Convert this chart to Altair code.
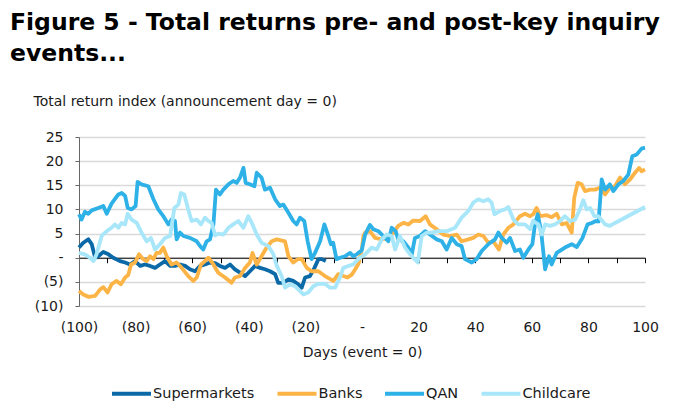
import altair as alt
import pandas as pd

SERIES = ["Supermarkets", "Banks", "QAN", "Childcare"]
COLORS = ["#0B69A8", "#FDB446", "#2DB1E6", "#A8E6FA"]

super_days = [-100, -98.5, -96.7, -95.5, -94.3, -93.2, -91.4, -89.6, -87.9, -85.5, -83.7, -82, -80.2, -78.4,
              -76.7, -74.9, -73.1, -71.4, -69.6, -67.8, -66.1, -64.3, -62.5, -60.8, -59, -57.2, -55.5, -53.7,
              -51.9, -50.2, -48.4, -46.6, -44.9, -43.1, -41.3, -39.6, -37.8, -36, -34.3, -32.5, -30.7, -29.6,
              -27.8, -26, -24.3, -22.5, -21.3, -20.1, -18.4, -16.8, -15.4, -14.2, -12.8]
super_vals = [2.1, 3.1, 3.8, 2.8, 0, 0.3, 1.2, 0.7, 0, -0.7, -1.0, -1.4, -0.7, -1.7,
              -1.4, -1.7, -2.1, -1.4, -0.7, -1.7, -1.7, -1.4, -1.7, -2.4, -2.8, -1.7, -1.4, -1.0,
              -1.1, -1.7, -2.1, -1.4, -2.4, -3.1, -3.8, -2.8, -1.7, -2.1, -2.4, -2.8, -3.4, -5.2,
              -5.2, -4.5, -4.8, -5.5, -6.2, -4.1, -3.8, -2.1, -0.3, -0.3, -0.7]

banks_days = [-100, -98.5, -96.7, -94.3, -92.6, -91.4, -89.9, -88.5, -86.7, -85.2, -83.7, -82.6, -81.6, -80.2,
              -78.8, -77.3, -76.1, -74.9, -73.7, -72.6, -71.4, -70.2, -69.0, -67.3, -65.5, -63.7, -61.4, -59.6,
              -58.4, -56.9, -55.5, -54.3, -52.5, -50.8, -48.4, -46.1, -44.9, -43.1, -41.3, -39.6, -38.7, -37.2,
              -35.5, -33.7, -31.9, -30.1, -27.2, -26.0, -24.3, -22.7, -21.3, -19.5, -17.8, -15.4, -13.1, -10.1,
              -8.4, -6.6, -5.1, -3.6, -2.5, -1.2, 0.0, 0.5, 1.1, 2.8, 4.6, 7.0, 9.3, 11.1, 12.8, 14.6,
              16.4, 18.1, 20.5, 22.5, 24.0, 26.4, 28.7, 31.1, 33.5, 35.2, 37.6, 39.3, 41.1, 42.9, 44.6, 46.4,
              47.9, 48.4, 49.9, 51.7, 53.5, 55.8, 57.6, 59.4, 60.5, 61.7, 62.9, 65.3, 67.0, 68.8, 70.6, 72.3,
              74.1, 75.0, 76.2, 77.6, 78.8, 80.6, 82.3, 84.1, 85.9, 87.6, 89.4, 91.2, 92.9, 94.7, 96.5, 97.9,
              98.8, 100]
banks_vals = [-6.9, -7.6, -8.1, -7.9, -6.6, -6.1, -7.2, -5.5, -4.8, -5.5, -4.1, -3.6, -1.4, -1.0,
              0.7, -0.3, -0.7, 0.3, -0.3, 1.0, 1.0, 2.1, 0.3, -1.4, -1.0, -2.1, -3.8, -4.8,
              -4.1, -1.4, -0.7, 0, -1.4, -3.1, -4.1, -5.2, -4.1, -3.8, -2.1, -1.0, 1.0, -1.4,
              0.3, 2.1, 3.4, 3.8, 3.4, 0.3, -1.0, -0.3, -0.3, -2.1, -2.8, -2.8, -3.8, -4.8,
              -3.4, -3.8, -4.1, -3.5, -2.5, -1.2, 2.0, 4.5, 5.2, 5.5, 4.1, 3.8, 4.1, 5.2, 6.6, 7.2,
              6.9, 7.7, 7.6, 8.6, 6.9, 5.9, 4.8, 4.5, 4.8, 3.4, 3.8, 4.1, 4.8, 4.5, 3.1, 3.4,
              2.1, 1.7, 4.8, 6.2, 6.9, 8.6, 9.1, 8.6, 9.0, 10.3, 8.6, 8.8, 8.4, 9.1, 6.9, 7.2,
              5.2, 12.4, 15.5, 15.2, 13.8, 14.1, 14.1, 14.5, 13.1, 14.5, 14.8, 16.6, 15.2, 16.2, 17.6, 18.6,
              17.9, 18.3]

qan_days = [-100, -99.1, -97.9, -96.7, -95.5, -93.2, -91.4, -90.2, -88.5, -86.1, -84.9, -83.7, -82.8, -81.4,
            -80.0, -79.3, -77.9, -75.5, -73.7, -72.0, -70.2, -68.4, -67.3, -66.1, -65.5, -64.3, -63.1, -60.8,
            -58.4, -57.2, -56.1, -54.9, -53.7, -52.5, -51.6, -50.2, -49.0, -47.2, -45.5, -44.3, -43.1, -41.9,
            -41.1, -39.6, -38.0, -37.2, -35.5, -34.3, -32.5, -30.7, -29.0, -27.8, -26.0, -24.3, -23.1, -21.9,
            -20.4, -19.2, -17.8, -16.6, -14.8, -13.3, -11.9, -11.0, -10.2, -9.0, -7.8, -6.0, -4.2, -3.1,
            -1.9, -1.3, -0.1, 1.1, 2.8, 4.0, 5.8, 7.5, 9.3, 10.5, 11.9, 12.8, 14.6, 16.4,
            17.6, 18.7, 20.5, 22.3, 24.0, 26.4, 28.2, 29.9, 31.7, 33.5, 35.2, 36.4, 38.8, 40.5,
            42.3, 44.6, 47.0, 48.2, 49.4, 51.1, 52.3, 54.1, 55.8, 57.0, 58.8, 60.2, 61.1, 62.1,
            63.3, 64.7, 66.1, 67.0, 68.8, 71.7, 74.1, 75.9, 77.9, 79.7, 81.2, 82.6, 83.6, 84.7,
            85.9, 87.6, 88.8, 90.6, 92.3, 94.1, 95.5, 97.1, 98.8, 100]
qan_vals = [9.0, 7.9, 9.5, 9.1, 9.8, 10.3, 10.7, 9.1, 11.2, 13.1, 13.4, 12.8, 10.3, 10.0,
            10.7, 15.7, 15.2, 14.8, 12.1, 10.0, 8.6, 6.9, 7.9, 7.6, 3.8, 5.2, 4.5, 4.1,
            3.4, 2.4, 1.7, 3.4, 3.8, 6.9, 14.1, 13.1, 14.1, 15.2, 15.9, 15.5, 16.6, 18.6,
            15.5, 15.2, 14.8, 17.6, 16.6, 14.1, 14.5, 12.1, 10.7, 11.0, 9.3, 7.6, 6.9, 8.3,
            7.6, 3.4, -0.3, 1.0, 3.4, 6.9, 4.5, 2.8, 3.1, -0.3, 0, 0.3, 1.0, 0.3,
            0.7, 1.0, 1.5, 4.8, 6.8, 5.9, 5.5, 4.5, 3.4, 6.2, 5.5, 3.8, 3.4, 2.1,
            0.7, 4.1, 4.5, 5.5, 4.8, 3.8, 3.4, 1.7, 4.1, 2.8, 2.4, -0.3, -1.0, -0.3,
            1.4, 2.8, 3.8, 5.2, 4.1, 3.1, 4.1, 1.4, 1.7, 0, 1.7, 2.8, 6.9, 9.0,
            5.5, -2.4, 0.3, -1.4, 1.0, 2.1, 2.8, 2.2, 4.1, 6.9, 7.2, 7.6, 7.5, 16.2,
            14.1, 15.2, 13.8, 15.2, 15.9, 17.2, 21.0, 21.4, 22.6, 22.8]

child_days = [-100, -97.9, -96.1, -94.9, -93.8, -92.0, -90.2, -88.5, -87.3, -86.1, -84.9, -83.7, -82.8, -81.4,
              -79.6, -77.9, -76.1, -74.6, -73.1, -71.4, -69.6, -67.8, -66.3, -64.9, -64.0, -62.8, -61.4, -60.2,
              -58.4, -56.9, -55.5, -54.3, -53.1, -51.9, -50.8, -49.0, -47.2, -45.5, -43.7, -41.9, -40.2, -38.7,
              -37.2, -35.5, -33.1, -31.3, -30.1, -28.4, -27.2, -25.4, -23.7, -21.9, -20.7, -19.0, -17.2, -15.4,
              -13.1, -11.3, -9.5, -7.8, -6.6, -4.8, -3.1, -2.5, -1.3, -0.7, 1.1, 3.4, 5.2, 7.0,
              8.7, 10.5, 11.7, 13.4, 15.2, 17.0, 18.1, 19.7, 21.1, 22.9, 24.6, 27.0, 29.9, 32.9,
              35.2, 37.6, 39.3, 41.1, 42.9, 44.6, 45.8, 46.8, 48.8, 50.5, 51.7, 53.5, 55.2, 57.6,
              59.4, 60.5, 62.3, 63.5, 64.7, 66.4, 68.2, 70.0, 71.7, 73.5, 75.3, 77.0, 78.2, 79.4,
              80.6, 82.1, 83.5, 84.5, 85.9, 87.6, 89.4, 100]
child_vals = [1.0, 0.7, 0, -0.7, 0.7, 4.5, 5.5, 6.2, 6.9, 6.2, 7.2, 6.9, 9.1, 7.9,
              7.2, 5.2, 3.4, 4.1, 1.7, 2.8, 4.1, 4.5, 10.3, 11.0, 13.4, 13.1, 10.0, 7.6,
              7.9, 6.9, 8.3, 7.6, 7.2, 4.6, 5.0, 4.8, 6.2, 6.9, 7.6, 6.2, 8.6, 6.9,
              4.8, 3.1, 2.4, 0.7, -1.7, -3.8, -6.2, -5.5, -5.9, -6.9, -7.6, -7.2, -5.9, -5.4,
              -5.4, -6.2, -6.2, -4.1, -2.1, -1.7, -1.4, -1.0, -0.3, 0, 0.7, 2.1, 1.7, 3.8,
              4.8, 4.5, 1.7, 4.5, 2.1, 0.7, 0, -1.0, 4.5, 5.2, 5.2, 5.5, 5.5, 6.2,
              8.3, 9.7, 11.4, 12.1, 11.7, 12.1, 11.4, 9.0, 9.7, 10.0, 10.5, 7.9, 6.9, 6.9,
              5.9, 7.6, 6.9, 4.8, 6.9, 6.6, 6.9, 7.6, 8.6, 7.6, 7.9, 10.0, 11.9, 10.0,
              10.3, 8.6, 8.6, 7.9, 6.9, 6.6, 7.2, 10.5]

rows = []
for name, ds, vs in [("Supermarkets", super_days, super_vals), ("Banks", banks_days, banks_vals),
                     ("QAN", qan_days, qan_vals), ("Childcare", child_days, child_vals)]:
    for d, v in zip(ds, vs):
        rows.append({"series": name, "day": d, "value": v})
df = pd.DataFrame(rows)

W, H = 566, 169
X_TICKS = list(range(-100, 101, 10))
Y_TICKS = [-10, -5, 0, 5, 10, 15, 20, 25]
FONT = "DejaVu Sans"

x_label = ("datum.value % 20 != 0 ? '' : (datum.value == 0 ? '-' : "
           "(datum.value < 0 ? '(' + (-datum.value) + ')' : '' + datum.value))")
y_label = ("datum.value == 0 ? '-' : (datum.value < 0 ? '(' + (-datum.value) + ')' : '' + datum.value)")

chart = alt.Chart(df).mark_line(strokeWidth=3.8, strokeJoin="round").encode(
    x=alt.X("day:Q",
            scale=alt.Scale(domain=[-100, 100], nice=False, zero=False),
            axis=alt.Axis(values=X_TICKS, labelExpr=x_label, title="Days (event = 0)",
                          grid=False, offset=-H * 10 / 35, domainColor="#000000", domainWidth=1,
                          tickColor="#000000", tickSize=5, labelPadding=69, labelBaseline="alphabetic",
                          labelFlush=False, labelOverlap=False, titleY=99, titleBaseline="alphabetic")),
    y=alt.Y("value:Q",
            scale=alt.Scale(domain=[-10, 25], nice=False, zero=False),
            axis=alt.Axis(values=Y_TICKS, labelExpr=y_label,
                          title="Total return index (announcement day = 0)",
                          titleAngle=0, titleAlign="left", titleX=-46, titleY=-32,
                          titleBaseline="alphabetic", grid=True, gridColor="#d9d9d9", gridWidth=1.5,
                          domainColor="#666666", tickColor="#666666", tickSize=4, labelPadding=12)),
    color=alt.Color("series:N", scale=alt.Scale(domain=SERIES, range=COLORS),
                    legend=alt.Legend(title=None, orient="none", legendX=31, legendY=235,
                                      direction="horizontal", symbolType="stroke", symbolSize=1521,
                                      symbolStrokeWidth=4, labelOffset=0, columnPadding=14.5,
                                      labelFontSize=14.5, labelFont=FONT, labelColor="#1a1a1a")),
    order=alt.Order("day:Q"),
).properties(
    width=W, height=H,
    autosize=alt.AutoSizeParams(type="none"),
    padding={"left": 79, "top": 137, "right": 47, "bottom": 109},
    title=alt.Title(["Figure 5 - Total returns pre- and post-key inquiry", "events..."],
                    anchor="start", frame="group", dx=-69, fontSize=23.5, font="DejaVu Sans",
                    fontWeight="bold", color="#000000", lineHeight=31, offset=29),
).configure_view(stroke=None).configure_axis(
    labelFont=FONT, labelFontSize=14, labelColor="#1a1a1a",
    titleFont=FONT, titleFontSize=14, titleFontWeight="normal", titleColor="#1a1a1a",
)

chart.save("out.html", embed_options={"renderer": "svg", "actions": False})
